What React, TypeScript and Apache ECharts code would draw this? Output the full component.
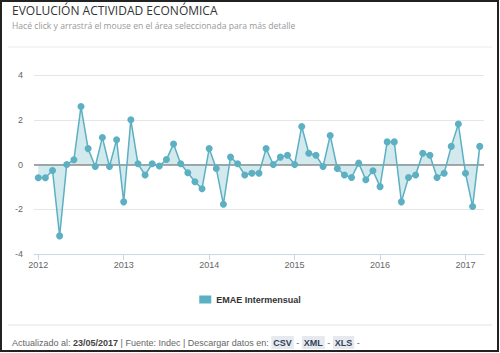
import React, { useEffect, useRef } from "react";
import * as echarts from "echarts";

// Monthly values from Jan 2012 to Mar 2017 (EMAE intermensual, %)
const values2012 = [-0.59, -0.59, -0.27, -3.19, 0.0, 0.21, 2.59, 0.71, -0.09, 1.21, -0.09, 1.11];
const values2013 = [-1.67, 2.0, 0.03, -0.47, 0.03, -0.07, 0.22, 0.92, 0.03, -0.37, -0.77, -1.08];
const values2014 = [0.71, -0.18, -1.78, 0.33, 0.03, -0.47, -0.39, -0.39, 0.71, 0.0, 0.33, 0.41];
const values2015 = [0.0, 1.7, 0.5, 0.41, -0.09, 1.3, -0.18, -0.47, -0.58, 0.06, -0.68, -0.28];
const values2016 = [-0.99, 1.01, 1.01, -1.67, -0.58, -0.47, 0.5, 0.41, -0.58, -0.39, 0.81, 1.81];
const values2017 = [-0.39, -1.88, 0.81];

const yearLabels = ["2012", "2013", "2014", "2015", "2016", "2017"];
const seriesName = "EMAE Intermensual";
const titleText = "EVOLUCIÓN ACTIVIDAD ECONÓMICA";
const subtitleText = "Hacé click y arrastrá el mouse en el área seleccionada para más detalle";

const allValues = [...values2012, ...values2013, ...values2014, ...values2015, ...values2016, ...values2017];

export default function App() {
  const ref = useRef<HTMLDivElement>(null);

  useEffect(() => {
    document.body.style.margin = "0";
    if (!ref.current) return;
    const chart = echarts.init(ref.current, null, { renderer: "svg" });
    const data = allValues.map((v, i) => [i, v]);
    const yearTicks = yearLabels.map((_, i) => i * 12);
    const color = "#5cb0c2";

    chart.setOption({
      animation: false,
      backgroundColor: "#ffffff",
      title: {
        text: titleText,
        subtext: subtitleText,
        left: 12,
        top: 4,
        padding: 0,
        itemGap: 5,
        textStyle: { fontFamily: "Open Sans", fontSize: 12, fontWeight: "normal", color: "#333333" },
        subtextStyle: { fontFamily: "Open Sans", fontSize: 8.6, color: "#999999" },
      },
      legend: {
        left: "center",
        top: 290,
        icon: "rect",
        itemWidth: 12,
        itemHeight: 8,
        itemGap: 4,
        textStyle: { fontFamily: "Liberation Sans", fontSize: 9, fontWeight: "bold", color: "#333333" },
        data: [seriesName],
      },
      grid: { left: 34, right: 16, top: 75, bottom: 99 },
      xAxis: {
        type: "value",
        min: -0.6,
        max: 62.6,
        splitLine: { show: false },
        axisLine: { show: true, onZero: false, lineStyle: { color: "#ccd6eb", width: 1 } },
        axisTick: { show: true, customValues: yearTicks, length: 6, lineStyle: { color: "#ccd6eb" } },
        axisLabel: {
          customValues: yearTicks,
          formatter: (v: number) => yearLabels[Math.round(v / 12)] ?? "",
          color: "#666666",
          fontFamily: "Liberation Sans",
          fontSize: 9,
          margin: 6,
        },
      },
      yAxis: {
        type: "value",
        min: -4,
        max: 4,
        interval: 2,
        axisLine: { show: false },
        axisTick: { show: false },
        splitLine: { lineStyle: { color: "#e6e6e6", width: 1 } },
        axisLabel: { color: "#666666", fontFamily: "Liberation Sans", fontSize: 9, margin: 11 },
      },
      series: [
        {
          name: seriesName,
          type: "line",
          data,
          symbol: "circle",
          symbolSize: 7,
          itemStyle: { color },
          lineStyle: { color, width: 1.5 },
          areaStyle: { color, opacity: 0.28, origin: 0 },
          markLine: {
            silent: true,
            symbol: "none",
            label: { show: false },
            lineStyle: { color: "#8c8c8c", width: 1.5, type: "solid" },
            data: [{ yAxis: 0 }],
            z: 1,
          },
          z: 3,
        },
      ],
      graphic: [
        { type: "rect", shape: { x: 1, y: 1, width: 497, height: 350 }, style: { fill: "none", stroke: "#222222", lineWidth: 2 }, silent: true },
        { type: "line", shape: { x1: 8, y1: 47, x2: 492, y2: 47 }, style: { stroke: "#ececec", lineWidth: 1 } },
        { type: "line", shape: { x1: 8, y1: 325, x2: 492, y2: 325 }, style: { stroke: "#ececec", lineWidth: 1.5 } },
        {
          type: "text",
          left: 12,
          top: 336,
          style: {
            text: "{g|Actualizado al: }{b|23/05/2017}{g| | Fuente: Indec | Descargar datos en: }{box|CSV}{g| - }{box|XML}{g| - }{box|XLS}{g| -}",
            rich: {
              g: { fontFamily: "Liberation Sans", fontSize: 9, fill: "#666666" },
              b: { fontFamily: "Liberation Sans", fontSize: 9, fontWeight: "bold", fill: "#444444" },
              box: {
                fontFamily: "Liberation Sans",
                fontSize: 9,
                fontWeight: "bold",
                fill: "#33415a",
                backgroundColor: "#e6eaef",
                padding: [2, 2],
              },
            },
          },
        },
      ],
    });

    return () => chart.dispose();
  }, []);

  return (
    <div style={{ position: "absolute", left: 0, top: 0, width: 500, height: 353 }}>
      <div ref={ref} style={{ width: 500, height: 353 }} />
    </div>
  );
}
